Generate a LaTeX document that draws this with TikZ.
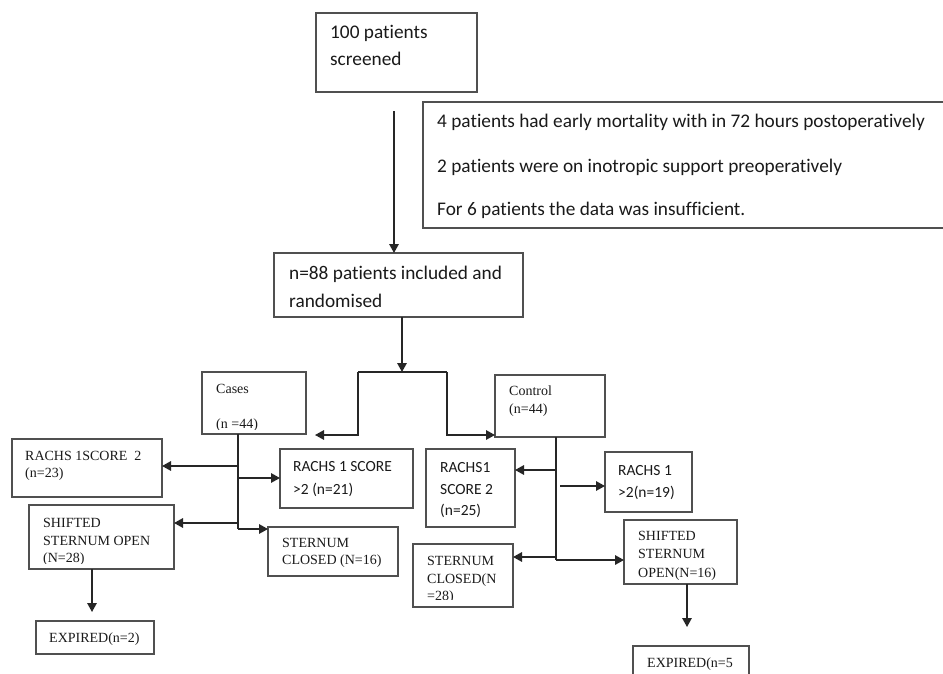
\documentclass[tikz,border=0pt]{standalone}
\usepackage{fontspec}
\setmainfont{Liberation Serif}
\newfontfamily\calfont[Ligatures=NoCommon]{Carlito}
\usetikzlibrary{arrows.meta}
\definecolor{boxgray}{HTML}{505050}
\definecolor{linegray}{HTML}{262626}
\definecolor{txtgray}{HTML}{1A1A1A}
\tikzset{
  box/.style={draw=boxgray, line width=1.1pt, anchor=north west, inner sep=0pt, outer sep=0pt},
  conn/.style={draw=linegray, line width=1.5pt},
  arr/.style={conn, -{Triangle[length=9pt,width=9.5pt]}},
  tx/.style={anchor=base west, inner sep=0pt, text=txtgray},
  sansA/.style={font=\calfont\fontsize{19.3}{23}\selectfont},
  sansB/.style={font=\calfont\fontsize{15.5}{19}\selectfont},
  serA/.style={font=\fontsize{14}{17}\selectfont},
}
\begin{document}
\begin{tikzpicture}[x=1pt,y=-1pt]
\useasboundingbox (0,0) rectangle (943,673);
\fill[white] (0,0) rectangle (943,673);

% ---- boxes ----
\node[box, minimum width=161pt, minimum height=79pt] (b100) at (316,13) {};
\node[box, minimum width=530pt, minimum height=126pt] (bexcl) at (423,102) {};
\node[box, minimum width=249pt, minimum height=64pt] (b88) at (274,253) {};
\node[box, minimum width=104pt, minimum height=62pt] (bcases) at (202,372) {};
\node[box, minimum width=110pt, minimum height=62pt] (bcontrol) at (495,375) {};
\node[box, minimum width=150pt, minimum height=58pt] (brl) at (12,439) {};
\node[box, minimum width=133pt, minimum height=59pt] (brr) at (280,449) {};
\node[box, minimum width=145pt, minimum height=64pt] (bsl) at (29,505) {};
\node[box, minimum width=130pt, minimum height=49pt] (bscl) at (268,527) {};
\node[box, minimum width=118pt, minimum height=33pt] (bexl) at (36,621) {};
\node[box, minimum width=89pt, minimum height=78pt] (bcr1) at (426,449) {};
\node[box, minimum width=87pt, minimum height=60pt] (bcr2) at (605,452) {};
\node[box, minimum width=100pt, minimum height=63pt] (bccl) at (413,544) {};
\node[box, minimum width=113pt, minimum height=64pt] (bcso) at (624,520) {};
\node[box, minimum width=116pt, minimum height=44pt] (bexr) at (633,646) {};

% ---- texts ----
\node[tx, sansA] (t100a) at (330,38) {100 patients};
\node[tx, sansA] (t100b) at (330,65) {screened};
\node[tx, sansA] (tex1) at (437,127) {4 patients had early mortality with in 72 hours postoperatively};
\node[tx, sansA] (tex2) at (437,172) {2 patients were on inotropic support preoperatively};
\node[tx, sansA] (tex3) at (437,215) {For 6 patients the data was insufficient.};
\node[tx, sansA] (t88a) at (289,279) {n=88 patients included and};
\node[tx, sansA] (t88b) at (289,307) {randomised};

\node[tx, serA] (tcasa) at (216,393) {Cases};
\begin{scope}
  \clip (202,372) rectangle (306,429);
  \node[tx, serA] (tcasb) at (216,428) {(n =44)};
\end{scope}
\node[tx, serA] (tcona) at (509,395) {Control};
\node[tx, serA] (tconb) at (509,413) {(n=44)};

\node[tx, serA] (trla) at (25,460) {RACHS 1SCORE\ \ 2};
\node[tx, serA] (trlb) at (25,477) {(n=23)};
\node[tx, sansB] (trra) at (293,471) {RACHS 1 SCORE};
\node[tx, sansB] (trrb) at (293,494) {>2 (n=21)};

\node[tx, serA] (tsla) at (43,527) {SHIFTED};
\node[tx, serA] (tslb) at (43,545) {STERNUM OPEN};
\begin{scope}
  \clip (29,505) rectangle (174,563);
  \node[tx, serA] (tslc) at (43,562) {(N=28)};
\end{scope}
\node[tx, serA] (tscla) at (282,547) {STERNUM};
\node[tx, serA] (tsclb) at (282,564) {CLOSED (N=16)};
\node[tx, serA] (texl) at (49,642) {EXPIRED(n=2)};

\node[tx, sansB] (tcr1a) at (440,472) {RACHS1};
\node[tx, sansB] (tcr1b) at (440,494) {SCORE 2};
\node[tx, sansB] (tcr1c) at (440,515) {(n=25)};
\node[tx, sansB] (tcr2a) at (618,475) {RACHS 1};
\node[tx, sansB] (tcr2b) at (618,497) {>2(n=19)};

\node[tx, serA] (tccla) at (427,565) {STERNUM};
\node[tx, serA] (tcclb) at (427,583) {CLOSED(N};
\begin{scope}
  \clip (413,544) rectangle (513,599);
  \node[tx, serA] (tcclc) at (427,600) {=28)};
\end{scope}
\node[tx, serA] (tcsoa) at (638,540) {SHIFTED};
\node[tx, serA] (tcsob) at (638,558) {STERNUM};
\node[tx, serA] (tcsoc) at (638,577) {OPEN(N=16)};
\node[tx, serA] (texr) at (647,667) {EXPIRED(n=5};

% ---- connectors ----
\coordinate (s1) at (394,111);
\draw[arr] (s1) -- (s1 |- b88.north);

\coordinate (sp) at (402,372);
\draw[arr] (b88.south -| sp) -- (sp);
\coordinate (spl) at (358,372);
\coordinate (spr) at (447,372);
\coordinate (al) at (315,435);
\draw[conn] (spl) -- (spr);
\draw[arr] (spl) |- (al);
\draw[arr] (spr) |- (bcontrol.west |- al);

% cases trunk
\coordinate (ct) at (238,529);
\draw[conn] (bcases.south -| ct) -- (ct);
\coordinate (c1) at (238,466);
\coordinate (c2) at (238,478);
\coordinate (c3) at (238,523);
\draw[arr] (c1) -- (c1 -| brl.east);
\draw[arr] (c2) -- (c2 -| brr.west);
\draw[arr] (c3) -- (c3 -| bsl.east);
\draw[arr] (ct) -- (ct -| bscl.west);

% control trunk
\coordinate (kt) at (556,560);
\draw[conn] (bcontrol.south -| kt) -- (kt);
\coordinate (k1) at (556,470);
\coordinate (k2) at (560,486);
\coordinate (k3) at (556,557);
\draw[arr] (k1) -- (k1 -| bcr1.east);
\draw[arr] (k2) -- (k2 -| bcr2.west);
\draw[arr] (k3) -- (k3 -| bccl.east);
\draw[arr] (kt) -- (kt -| bcso.west);

% to expired
\coordinate (e1) at (92,612);
\draw[arr] (bsl.south -| e1) -- (e1);
\coordinate (e2) at (687,627);
\draw[arr] (bcso.south -| e2) -- (e2);
\end{tikzpicture}
\end{document}
